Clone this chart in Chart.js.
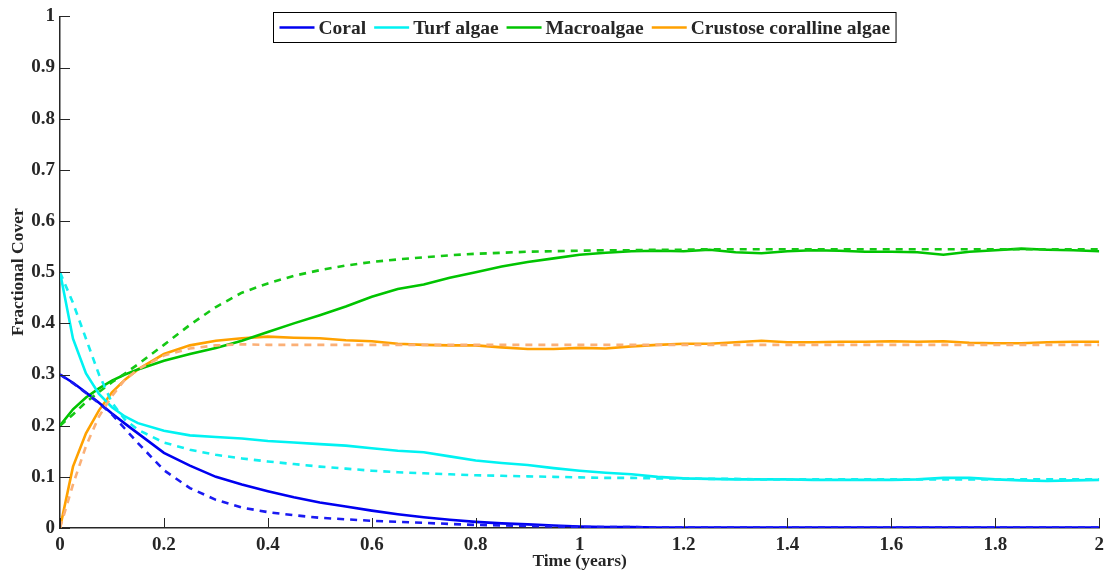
<!DOCTYPE html>
<html lang="en">
  <head>
    <meta charset="UTF-8" />
    <title>Fractional Cover over Time</title>
    <script src="https://cdn.jsdelivr.net/npm/chart.js"></script>
    <style>
      html,
      body {
        margin: 0;
        padding: 0;
        background: #ffffff;
      }
      #wrap {
        width: 1110px;
        height: 573px;
      }
    </style>
  </head>
  <body>
    <div id="wrap">
      <canvas id="coverChart" width="1110" height="573"></canvas>
    </div>

    <script>
      // time samples (years)
      const timeYears = [
        0, 0.025, 0.05, 0.075, 0.1, 0.125, 0.15, 0.2, 0.25, 0.3, 0.35, 0.4,
        0.45, 0.5, 0.55, 0.6, 0.65, 0.7, 0.75, 0.8, 0.85, 0.9, 0.95, 1.0, 1.05,
        1.1, 1.15, 1.2, 1.25, 1.3, 1.35, 1.4, 1.45, 1.5, 1.55, 1.6, 1.65, 1.7,
        1.75, 1.8, 1.85, 1.9, 1.95, 2.0,
      ];

      // simulated cover (solid lines)
      const coralSim = [
        0.3, 0.284, 0.265, 0.245, 0.224, 0.204, 0.185, 0.147, 0.122, 0.1,
        0.085, 0.072, 0.06, 0.05, 0.042, 0.034, 0.027, 0.021, 0.016, 0.012,
        0.009, 0.007, 0.005, 0.003, 0.002, 0.002, 0.001, 0.001, 0.001, 0.001,
        0.001, 0.001, 0.001, 0.001, 0.001, 0.001, 0.001, 0.001, 0.001, 0.001,
        0.001, 0.001, 0.001, 0.001,
      ];
      const turfSim = [
        0.5, 0.37, 0.302, 0.262, 0.236, 0.218, 0.205, 0.19, 0.181, 0.178,
        0.175, 0.17, 0.167, 0.164, 0.161, 0.156, 0.151, 0.148, 0.14, 0.132,
        0.127, 0.123, 0.117, 0.112, 0.108, 0.105, 0.1, 0.097, 0.096, 0.095,
        0.095, 0.095, 0.094, 0.094, 0.094, 0.094, 0.095, 0.098, 0.098, 0.095,
        0.093, 0.092, 0.093, 0.094,
      ];
      const macroSim = [
        0.2, 0.232, 0.255, 0.273, 0.288, 0.3, 0.31, 0.327, 0.34, 0.352, 0.366,
        0.383, 0.4, 0.416, 0.433, 0.452, 0.467, 0.476, 0.489, 0.5, 0.511, 0.52,
        0.527, 0.534, 0.538, 0.541, 0.542, 0.541, 0.544, 0.539, 0.537, 0.541,
        0.543, 0.542, 0.54, 0.54, 0.539, 0.534, 0.54, 0.543, 0.546, 0.544,
        0.543, 0.541,
      ];
      const ccaSim = [
        0, 0.12, 0.185, 0.23, 0.265, 0.29, 0.31, 0.34, 0.357, 0.366, 0.371,
        0.374, 0.372, 0.371, 0.367, 0.365, 0.36, 0.358, 0.357, 0.357, 0.353,
        0.35, 0.35, 0.352, 0.351, 0.355, 0.358, 0.36, 0.36, 0.363, 0.366, 0.363,
        0.363, 0.364, 0.364, 0.365, 0.364, 0.365, 0.362, 0.361, 0.361, 0.363,
        0.364, 0.364,
      ];

      // mean-field model (dashed lines)
      const coralModel = [
        0.3, 0.283, 0.264, 0.244, 0.222, 0.194, 0.166, 0.113, 0.078, 0.055,
        0.04, 0.031, 0.025, 0.02, 0.017, 0.014, 0.012, 0.01, 0.008, 0.006,
        0.005, 0.004, 0.003, 0.002, 0.002, 0.002, 0.001, 0.001, 0.001, 0.001,
        0.001, 0.001, 0.001, 0.001, 0.001, 0.001, 0.001, 0.001, 0.001, 0.001,
        0.001, 0.001, 0.001, 0.001,
      ];
      const turfModel = [
        0.5, 0.44, 0.37, 0.3, 0.245, 0.212, 0.192, 0.167, 0.153, 0.143, 0.136,
        0.13, 0.125, 0.12, 0.116, 0.112, 0.109, 0.107, 0.105, 0.103, 0.102,
        0.101, 0.1, 0.099, 0.098, 0.098, 0.097, 0.097, 0.096, 0.096, 0.095,
        0.095, 0.095, 0.095, 0.095, 0.095, 0.095, 0.095, 0.095, 0.095, 0.095,
        0.095, 0.095, 0.095,
      ];
      const macroModel = [
        0.2, 0.222, 0.246, 0.266, 0.285, 0.302, 0.32, 0.358, 0.397, 0.432,
        0.46, 0.478, 0.493, 0.504, 0.513, 0.52, 0.525, 0.529, 0.533, 0.536,
        0.538, 0.54, 0.541, 0.542, 0.543, 0.543, 0.544, 0.544, 0.545, 0.545,
        0.545, 0.545, 0.545, 0.545, 0.545, 0.545, 0.545, 0.545, 0.545, 0.545,
        0.545, 0.545, 0.545, 0.545,
      ];
      const ccaModel = [
        0, 0.085, 0.16, 0.218, 0.258, 0.29, 0.31, 0.337, 0.351, 0.357, 0.359,
        0.358, 0.358, 0.358, 0.358, 0.358, 0.358, 0.358, 0.358, 0.358, 0.358,
        0.358, 0.358, 0.358, 0.358, 0.358, 0.358, 0.358, 0.358, 0.358, 0.358,
        0.358, 0.358, 0.358, 0.358, 0.358, 0.358, 0.358, 0.358, 0.358, 0.358,
        0.358, 0.358, 0.358,
      ];

      const seriesNames = [
        "Coral",
        "Turf algae",
        "Macroalgae",
        "Crustose coralline algae",
      ];
      const xTickValues = [0, 0.2, 0.4, 0.6, 0.8, 1, 1.2, 1.4, 1.6, 1.8, 2];
      const yTickValues = [0, 0.1, 0.2, 0.3, 0.4, 0.5, 0.6, 0.7, 0.8, 0.9, 1];

      const solidColors = ["#0000f0", "#00f2f2", "#00c400", "#ffa100"];
      const dashColors = ["#1a1af2", "#12f0f0", "#14c814", "#fbb077"];
      const ink = "#262626";
      const serif = "'Liberation Serif', 'Times New Roman', serif";

      const toPoints = (ys) => ys.map((y, i) => ({ x: timeYears[i], y: y }));

      const datasets = [];
      [coralSim, turfSim, macroSim, ccaSim].forEach((ys, i) => {
        datasets.push({
          label: seriesNames[i],
          data: toPoints(ys),
          borderColor: solidColors[i],
          borderWidth: 2.6,
          pointRadius: 0,
          tension: 0,
          order: 2,
          inLegend: true,
        });
      });
      [coralModel, turfModel, macroModel, ccaModel].forEach((ys, i) => {
        datasets.push({
          label: seriesNames[i] + " (model)",
          data: toPoints(ys),
          borderColor: dashColors[i],
          borderWidth: 2.6,
          borderDash: [7, 6],
          pointRadius: 0,
          tension: 0,
          order: 1,
          inLegend: false,
        });
      });

      // inward tick marks on the left and bottom axes
      const innerTicks = {
        id: "innerTicks",
        afterDatasetsDraw(chart) {
          const { ctx, chartArea, scales } = chart;
          ctx.save();
          ctx.strokeStyle = ink;
          ctx.lineWidth = 1;
          xTickValues.forEach((v) => {
            const px = Math.round(scales.x.getPixelForValue(v)) + 0.5;
            ctx.beginPath();
            ctx.moveTo(px, chartArea.bottom);
            ctx.lineTo(px, chartArea.bottom - 10);
            ctx.stroke();
          });
          yTickValues.forEach((v) => {
            const py = Math.round(scales.y.getPixelForValue(v)) + 0.5;
            ctx.beginPath();
            ctx.moveTo(chartArea.left, py);
            ctx.lineTo(chartArea.left + 10, py);
            ctx.stroke();
          });
          ctx.restore();
        },
      };

      // boxed legend inside the top of the plot
      const boxLegend = {
        id: "boxLegend",
        afterDraw(chart) {
          const { ctx, chartArea } = chart;
          const items = chart.data.datasets.filter((d) => d.inLegend);
          ctx.save();
          ctx.font = "bold 19.5px " + serif;
          const lineLen = 35;
          const gapLine = 4;
          const gapItem = 8;
          const pad = 6;
          let total = pad * 2;
          const widths = items.map((d) => ctx.measureText(d.label).width);
          widths.forEach((w, i) => {
            total += lineLen + gapLine + w + (i < widths.length - 1 ? gapItem : 0);
          });
          const boxH = 30;
          const cx = (chartArea.left + chartArea.right) / 2 + 5;
          const left = Math.round(cx - total / 2) + 0.5;
          const top = 12.5;
          ctx.fillStyle = "#ffffff";
          ctx.fillRect(left, top, total, boxH);
          ctx.strokeStyle = "#000000";
          ctx.lineWidth = 1;
          ctx.strokeRect(left, top, total, boxH);
          let x = left + pad;
          const midY = top + boxH / 2;
          items.forEach((d, i) => {
            ctx.strokeStyle = d.borderColor;
            ctx.lineWidth = 2.6;
            ctx.beginPath();
            ctx.moveTo(x, midY);
            ctx.lineTo(x + lineLen, midY);
            ctx.stroke();
            x += lineLen + gapLine;
            ctx.fillStyle = ink;
            ctx.textBaseline = "middle";
            ctx.textAlign = "left";
            ctx.fillText(d.label, x, midY + 1);
            x += widths[i] + gapItem;
          });
          ctx.restore();
        },
      };

      const tickFont = { family: serif, size: 19, weight: "bold" };
      const titleFont = { family: serif, size: 17.5, weight: "bold" };

      new Chart(document.getElementById("coverChart").getContext("2d"), {
        type: "line",
        data: { datasets: datasets },
        options: {
          responsive: false,
          animation: false,
          events: [],
          layout: { padding: { top: 16, right: 10, left: 0, bottom: 0 } },
          plugins: {
            legend: { display: false },
            tooltip: { enabled: false },
          },
          scales: {
            x: {
              type: "linear",
              min: 0,
              max: 2,
              afterBuildTicks: (scale) => {
                scale.ticks = xTickValues.map((v) => ({ value: v }));
              },
              afterFit: (scale) => {
                scale.height = 45;
              },
              grid: { drawOnChartArea: false, drawTicks: false },
              border: { display: true, color: ink, width: 1.5 },
              ticks: {
                color: ink,
                font: tickFont,
                padding: 6,
                maxRotation: 0,
                autoSkip: false,
                callback: (v) => String(Math.round(v * 10) / 10),
              },
              title: {
                display: true,
                text: "Time (years)",
                color: ink,
                font: titleFont,
                padding: { top: 0, bottom: 1 },
              },
            },
            y: {
              type: "linear",
              min: 0,
              max: 1,
              afterBuildTicks: (scale) => {
                scale.ticks = yTickValues.map((v) => ({ value: v }));
              },
              afterFit: (scale) => {
                scale.width = 60;
              },
              grid: { drawOnChartArea: false, drawTicks: false },
              border: { display: true, color: ink, width: 1.5 },
              ticks: {
                color: ink,
                font: tickFont,
                padding: 5,
                autoSkip: false,
                callback: (v) => String(Math.round(v * 10) / 10),
              },
              title: {
                display: true,
                text: "Fractional Cover",
                color: ink,
                font: titleFont,
                padding: { top: 8, bottom: 0 },
              },
            },
          },
        },
        plugins: [innerTicks, boxLegend],
      });
    </script>
  </body>
</html>
